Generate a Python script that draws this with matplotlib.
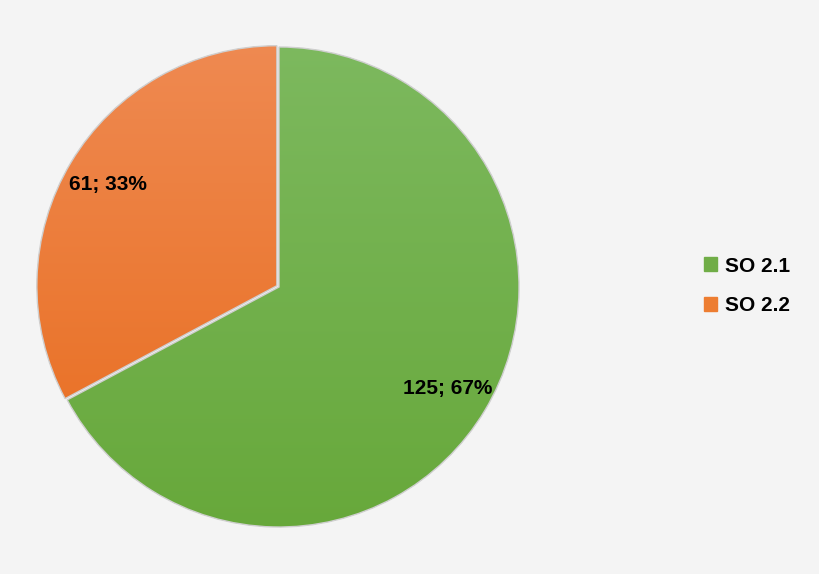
import matplotlib.pyplot as plt
import numpy as np
from matplotlib.colors import LinearSegmentedColormap
from matplotlib.patches import PathPatch

# Data
labels = ['SO 2.1', 'SO 2.2']
values = [125, 61]
colors = ['#70AD47', '#ED7D31']
top_colors = ['#7db95f', '#ef8a52']
bottom_colors = ['#67a83a', '#e86b1b']

W, H = 820, 574
fig = plt.figure(figsize=(W / 100, H / 100), dpi=100)
fig.patch.set_facecolor('#f4f4f4')
ax = fig.add_axes([0, 0, 1, 1])

cx, cy, r = 279, H - 287, 240
total = sum(values)

wedges, texts, autotexts = ax.pie(
    values, colors=colors, startangle=90, counterclock=False,
    center=(cx, cy), radius=r, explode=[0, 2.5],
    autopct=lambda p: f"{round(p * total / 100)}; {p:.0f}%",
    pctdistance=0.82, frame=True,
    wedgeprops=dict(edgecolor='none', linewidth=0),
    textprops=dict(fontsize=15, fontweight='bold', color='black',
                   family='Liberation Sans'))
ax.set_xlim(0, W)
ax.set_ylim(0, H)
ax.set_aspect('equal')
ax.axis('off')

# vertical gradient fill clipped to each wedge
grad = np.linspace(1, 0, 256).reshape(-1, 1)
for w, c0, c1 in zip(wedges, top_colors, bottom_colors):
    cmap = LinearSegmentedColormap.from_list('g', [c1, c0])
    im = ax.imshow(grad, cmap=cmap, extent=[cx - r - 10, cx + r + 10, cy - r - 10, cy + r + 10],
                   origin='upper', zorder=w.get_zorder() + 0.1, aspect='auto')
    im.set_clip_path(w)
    ax.add_patch(PathPatch(w.get_path(), fill=False, edgecolor='#cfcfcf', linewidth=1.0,
                           transform=w.get_transform(), zorder=w.get_zorder() + 0.2))
for t in autotexts:
    t.set_zorder(5)

ax.set_xlim(0, W)
ax.set_ylim(0, H)

handles = [plt.Rectangle((0, 0), 1, 1, color=c) for c in colors]
ax.legend(handles, labels, loc='center left', bbox_to_anchor=(685 / W, 1 - 286 / H),
          frameon=False, handlelength=0.65, handleheight=0.65, handletextpad=0.35,
          labelspacing=1.0, prop=dict(size=15, weight='bold', family='Liberation Sans'))

plt.savefig('out.png', dpi=100, facecolor=fig.get_facecolor())
